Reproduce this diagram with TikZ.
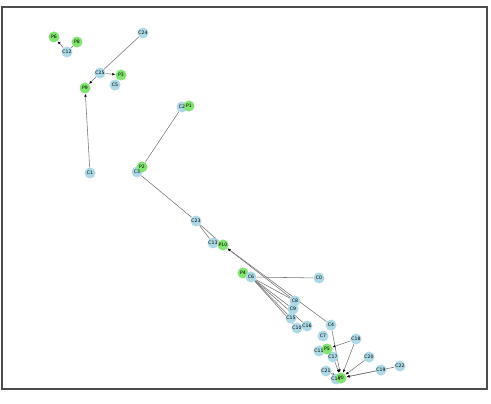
\documentclass[tikz,border=0pt]{standalone}
\usepackage{fontspec}
\setmainfont{DejaVu Sans}
\usetikzlibrary{arrows.meta,backgrounds}
\definecolor{cblue}{RGB}{173,216,230}
\definecolor{pgreen}{RGB}{130,228,112}
\tikzset{
  cnode/.style={circle, fill=cblue, inner sep=0pt, minimum size=11pt},
  pnode/.style={circle, fill=pgreen, inner sep=0pt, minimum size=11pt},
  lbl/.style={inner sep=0pt, font=\fontsize{4.6}{5}\selectfont},
  edge/.style={draw=black!55, line width=0.55pt},
}
\begin{document}
\begin{tikzpicture}[x=1pt, y=-1pt, >={Latex[length=3pt,width=2.6pt,black]}]
        \useasboundingbox (0,0) rectangle (491,404);
        % ==== FRAME ====
        \draw[line width=1.1pt, black!70] (2,7) rectangle (487,389);
        % ==== C NODES ====
        \foreach \n/\x/\y in {C0/319/278, C1/90/173, C2/182/107, C3/137/172,
            C4/331/325, C5/115/85, C7/323/336, C8/295/301, C9/293/309,
            C10/297/328, C11/319/351, C12/67/52, C13/213/243, C14/336/379,
            C15/291/318, C16/307/326, C17/333/357, C18/356/339, C19/381/370,
            C20/369/357, C21/326/371, C22/400/366, C23/196/221, C24/143/33,
            C25/100/73}
            \node[cnode] (\n) at (\x,\y) {};
        % ==== P NODES ====
        \foreach \n/\x/\y in {P0/341/378, P1/189/106, P2/142/167, P3/121/75,
            P4/243/273, P5/327/349, P6/54/37, P8/77/42, P9/85/88, P10/223/245}
            \node[pnode] (\n) at (\x,\y) {};
        \node[cnode] (C6) at (251,277) {};
        % ==== LABELS ====
        \foreach \n in {C0,C1,C2,C3,C4,C5,C6,C7,C8,C9,C10,C11,C12,C13,C14,
            C15,C16,C17,C18,C19,C20,C21,C22,C23,C24,C25,
            P0,P1,P2,P3,P4,P5,P6,P8,P9,P10}
            \node[lbl] at (\n) {\n};

        % ==== EDGES ====
        \begin{scope}[on background layer]
        \draw[edge, ->] (C12) -- (P6);
        \draw[edge] (P8) -- (C12);
        \draw[edge] (C24) -- (C25);
        \draw[edge, ->] (C25) -- (P3);
        \draw[edge, ->] (C25) -- (P9);
        \draw[edge, ->] (C1) -- (P9);
        \draw[edge] (C2) -- (P2);
        \draw[edge] (C3) -- (C23);
        \draw[edge] (C23) -- (C13);
        \draw[edge] (C23) -- (P10);
        \draw[edge, ->] (C8) -- (P10);
        \draw[edge, ->] (C4) -- (P10);
        \draw[edge] (C6) -- (C0);
        \draw[edge] (C6) -- (C8);
        \draw[edge] (C6) -- (C9);
        \draw[edge] (C6) -- (C15);
        \draw[edge] (C6) -- (C10);
        \draw[edge] (C6) -- (C16);
        \draw[edge, ->] (C4) -- (P0);
        \draw[edge, ->] (C18) -- (P5);
        \draw[edge, ->] (C18) -- (P0);
        \draw[edge, ->] (C17) -- (P0);
        \draw[edge, ->] (C20) -- (P0);
        \draw[edge, ->] (C19) -- (P0);
        \draw[edge, ->] (C22) -- (P0);
        \draw[edge, ->] (C21) -- (P0);
        \end{scope}
\end{tikzpicture}
\end{document}
